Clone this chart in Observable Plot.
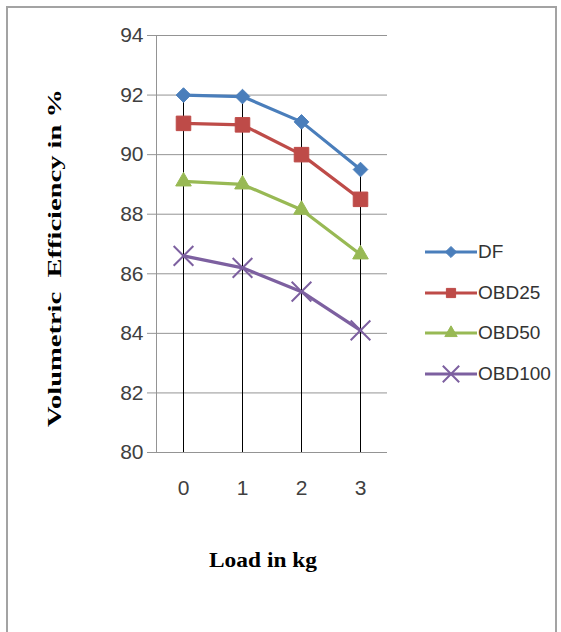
<!DOCTYPE html>
<html>
<head>
<meta charset="utf-8">
<script src="https://cdn.jsdelivr.net/npm/d3@7"></script>
<script src="https://cdn.jsdelivr.net/npm/@observablehq/plot@0.6"></script>
<style>
  body { margin: 0; background: #fff; }
  #wrap { position: relative; width: 561px; height: 632px; overflow: hidden; background: #fff; }
  #wrap > svg { position: absolute; left: 0; top: 0; }
  #border { position: absolute; left: 6px; top: 6px; width: 551px; height: 700px; border: 2px solid #a3a3a3; box-sizing: border-box; pointer-events: none; }
  #legend { position: absolute; left: 425px; top: 0; font: 19px "Liberation Sans", Arial, sans-serif; color: #333; }
  .item { position: absolute; left: 0; display: flex; align-items: center; height: 24px; white-space: nowrap; }
  .item svg { display: block; margin-right: 1px; }
</style>
</head>
<body>
<div id="wrap"><div id="legend"></div><div id="border"></div></div>
<script>
// ---- data ----
const loads = [0, 1, 2, 3];
const seriesNames = ["DF", "OBD25", "OBD50", "OBD100"];
const dfValues = [92.0, 91.95, 91.1, 89.5];
const obd25Values = [91.05, 91.0, 90.0, 88.5];
const obd50Values = [89.1, 89.0, 88.15, 86.65];
const obd100Values = [86.6, 86.2, 85.4, 84.1];
const yTicks = [80, 82, 84, 86, 88, 90, 92, 94];
const xTitle = "Load in kg";
const yTitle = "Volumetric  Efficiency in %";
const seriesColors = ["#4a7ebb", "#be4b48", "#98b954", "#7d60a0"];
const seriesSymbols = ["diamond2", "square", "triangle", "times"];

const valuesBySeries = [dfValues, obd25Values, obd50Values, obd100Values];
const rows = [];
seriesNames.forEach((s, i) => loads.forEach((l, j) => rows.push({series: s, load: l, value: valuesBySeries[i][j]})));
const dropRows = loads.map((l, j) => ({load: l, top: d3.max(valuesBySeries, v => v[j])}));

const tickFont = '"Liberation Sans", Arial, sans-serif';
const titleFont = '"Liberation Serif", "Times New Roman", serif';
const symbolRadius = {diamond2: 6.6, square: 8.2, triangle: 5.8, times: 9};

const dotMarks = seriesNames.map((s, i) => {
  const sym = seriesSymbols[i];
  const filled = sym !== "times";
  return Plot.dot(rows.filter(d => d.series === s), {
    x: "load", y: "value", symbol: () => sym, r: symbolRadius[sym],
    fill: filled ? seriesColors[i] : "none",
    stroke: seriesColors[i], strokeWidth: filled ? 1 : 2
  });
});

const chart = Plot.plot({
  width: 561,
  height: 632,
  marginLeft: 156,
  marginRight: 174,
  marginTop: 35,
  marginBottom: 180,
  style: {background: "transparent", overflow: "visible"},
  x: {type: "point", domain: loads, padding: 0.45},
  y: {domain: [80, 94]},
  symbol: {type: "identity"},
  marks: [
    Plot.ruleY(yTicks, {stroke: "#949494", strokeWidth: 1}),
    Plot.axisY({ticks: yTicks, tickSize: 9, tickPadding: 4, stroke: "#949494",
      fontSize: 21, fontFamily: tickFont, fill: "#404040", label: null}),
    Plot.axisX({ticks: loads, tickSize: 0, tickPadding: 28,
      fontSize: 21, fontFamily: tickFont, fill: "#404040", label: null}),
    Plot.frame({anchor: "left", stroke: "#949494"}),
    Plot.ruleX(dropRows, {x: "load", y1: 80, y2: "top", stroke: "#000", strokeWidth: 1}),
    ...seriesNames.map((s, i) => Plot.line(rows.filter(d => d.series === s), {
      x: "load", y: "value", stroke: seriesColors[i], strokeWidth: 3.2
    })),
    ...dotMarks,
    Plot.text([yTitle], {frameAnchor: "left", textAnchor: "middle", lineAnchor: "middle", rotate: -90,
      dx: -102, dy: 14, fontSize: 19, fontWeight: "bold", fontFamily: titleFont, fill: "#000"}),
    Plot.text([xTitle], {frameAnchor: "bottom", textAnchor: "middle", lineAnchor: "middle",
      dx: -9, dy: 108, fontSize: 21, fontWeight: "bold", fontFamily: titleFont, fill: "#000"})
  ]
});

const wrap = document.getElementById("wrap");
wrap.insertBefore(chart, wrap.firstChild);

// stretch titles like the reference
d3.select(chart).selectAll("text").filter(function() { return this.textContent === yTitle; })
  .attr("textLength", 338).attr("lengthAdjust", "spacingAndGlyphs");
d3.select(chart).selectAll("text").filter(function() { return this.textContent === xTitle; })
  .attr("textLength", 108).attr("lengthAdjust", "spacingAndGlyphs");

// legend
const legend = d3.select("#legend");
const legendTop = 252, legendStep = 40.5;
const symMap = {diamond2: d3.symbolDiamond2, square: d3.symbolSquare, triangle: d3.symbolTriangle, times: d3.symbolTimes};
seriesNames.forEach((s, i) => {
  const item = legend.append("div").attr("class", "item").style("top", (legendTop + i * legendStep - 12) + "px");
  const svg = item.append("svg").attr("width", 52).attr("height", 24);
  svg.append("line").attr("x1", 0).attr("x2", 52).attr("y1", 12).attr("y2", 12)
    .attr("stroke", seriesColors[i]).attr("stroke-width", 3.2);
  const r = {diamond2: 5, square: 5.2, triangle: 4.6, times: 7.5}[seriesSymbols[i]];
  const filled = seriesSymbols[i] !== "times";
  svg.append("path").attr("transform", "translate(26,12)")
    .attr("d", d3.symbol(symMap[seriesSymbols[i]], r * r * Math.PI)())
    .attr("fill", filled ? seriesColors[i] : "none")
    .attr("stroke", seriesColors[i]).attr("stroke-width", filled ? 1 : 2);
  item.append("span").text(s);
});
</script>
</body>
</html>
